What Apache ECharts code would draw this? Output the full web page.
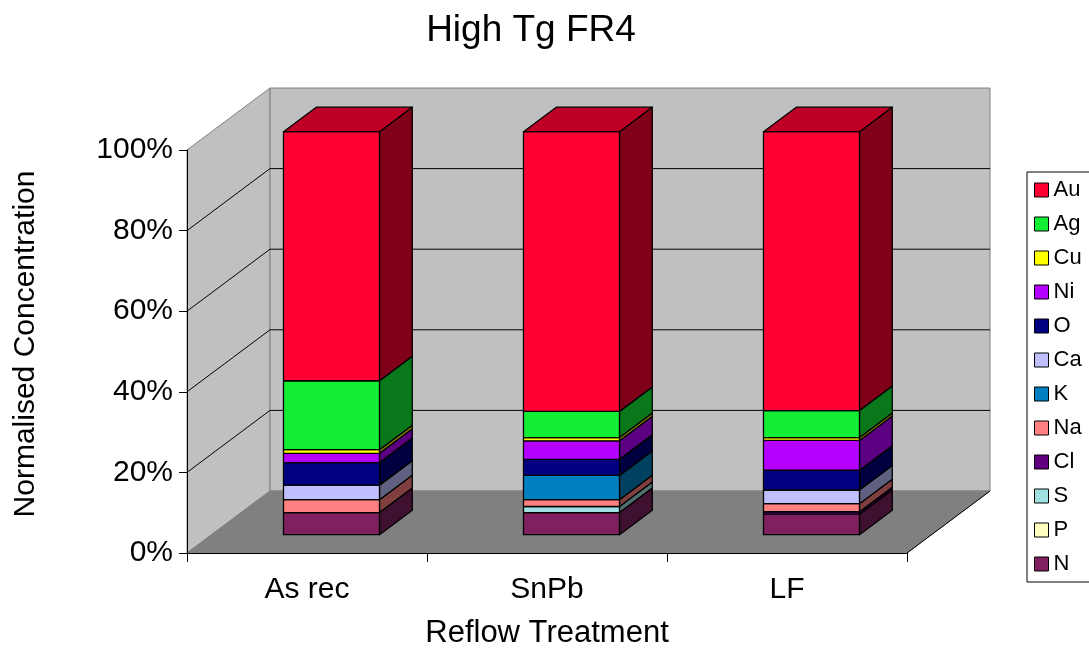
<!DOCTYPE html>
<html><head><meta charset="utf-8">
<script src="https://cdn.jsdelivr.net/npm/echarts@6/dist/echarts.min.js"></script>
<style>html,body{margin:0;padding:0;background:#fff}#c{width:1089px;height:651px}</style>
</head><body><div id="c"></div>
<script>
// ---- data ----
const categories = ['As rec', 'SnPb', 'LF'];
const elements = ['N', 'P', 'S', 'Cl', 'Na', 'K', 'Ca', 'O', 'Ni', 'Cu', 'Ag', 'Au']; // stack order bottom -> top
const N  = [5.5, 5.5, 5.1];
const P  = [0, 0, 0];
const S  = [0, 1.5, 0];
const Cl = [0, 0, 0.6];
const Na = [3.2, 1.7, 2.0];
const K  = [0, 6.0, 0];
const Ca = [3.6, 0, 3.4];
const O  = [5.6, 4.0, 4.9];
const Ni = [2.3, 4.6, 7.4];
const Cu = [0.9, 0.8, 0.7];
const Ag = [17.1, 6.5, 6.7];
const Au = [61.8, 69.4, 69.2];
const yTicks = [0, 20, 40, 60, 80, 100];

const values = {N, P, S, Cl, Na, K, Ca, O, Ni, Cu, Ag, Au};
const colors = {
  Au: '#ff0033', Ag: '#11ee33', Cu: '#ffff00', Ni: '#b300ff', O: '#000080', Ca: '#c0c0ff',
  K: '#0080c0', Na: '#ff8080', Cl: '#600080', S: '#a0e0e0', P: '#ffffc0', N: '#802060'
};

// ---- 3D look ----
const DX = 83, DY = -62, FRONT = 0.295, DEPTH = 0.395;
const FONT = "'Liberation Sans', Arial, sans-serif";
function shade(hex, f) {
  const n = parseInt(hex.slice(1), 16);
  const r = Math.round(((n >> 16) & 255) * f), g = Math.round(((n >> 8) & 255) * f), b = Math.round((n & 255) * f);
  return 'rgb(' + r + ',' + g + ',' + b + ')';
}

// stacking bases and topmost flags
const topIndex = categories.map((_, c) => {
  let idx = -1;
  elements.forEach((e, i) => { if (values[e][c] > 0) idx = i; });
  return idx;
});
const cum = categories.map(() => 0);
const seriesData = {};
elements.forEach((e, i) => {
  seriesData[e] = categories.map((_, c) => {
    const b = cum[c];
    cum[c] += values[e][c];
    return [c, b, cum[c], topIndex[c] === i ? 1 : 0];
  });
});

function barRender(color) {
  const side = shade(color, 0.5), top = shade(color, 0.75);
  return function (params, api) {
    const c = api.value(0), b = api.value(1), t = api.value(2), isTop = api.value(3);
    if (t - b <= 0) return null;
    const p0 = api.coord([c, b]), p1 = api.coord([c, t]);
    const w = api.size([1, 0])[0] * 0.4;
    const ox = DX * FRONT, oy = DY * FRONT, sx = DX * DEPTH, sy = DY * DEPTH;
    const xl = p0[0] - w / 2 + ox, xr = p0[0] + w / 2 + ox, yb = p0[1] + oy, yt = p1[1] + oy;
    const st = {stroke: '#000', lineWidth: 1.3, lineJoin: 'round'};
    const children = [
      {type: 'polygon', shape: {points: [[xr, yt], [xr + sx, yt + sy], [xr + sx, yb + sy], [xr, yb]]},
       style: Object.assign({fill: side}, st)},
      {type: 'rect', shape: {x: xl, y: yt, width: xr - xl, height: yb - yt},
       style: Object.assign({fill: color}, st)}
    ];
    if (isTop) {
      children.push({type: 'polygon', shape: {points: [[xl, yt], [xl + sx, yt + sy], [xr + sx, yt + sy], [xr, yt]]},
        style: Object.assign({fill: top}, st)});
    }
    return {type: 'group', children};
  };
}

function wallsRender(params, api) {
  const cs = params.coordSys;
  const x0 = cs.x, x1 = cs.x + cs.width, yb = cs.y + cs.height, yt = cs.y;
  const ch = [];
  ch.push({type: 'polygon', shape: {points: [[x0, yb], [x0, yt], [x0 + DX, yt + DY], [x0 + DX, yb + DY]]},
    style: {fill: '#c0c0c0', stroke: '#808080', lineWidth: 1}});
  ch.push({type: 'rect', shape: {x: x0 + DX, y: yt + DY, width: x1 - x0, height: yb - yt},
    style: {fill: '#c0c0c0', stroke: '#808080', lineWidth: 1}});
  ch.push({type: 'polygon', shape: {points: [[x0, yb], [x1, yb], [x1 + DX, yb + DY], [x0 + DX, yb + DY]]},
    style: {fill: '#808080', stroke: '#808080', lineWidth: 1}});
  ch.push({type: 'line', shape: {x1: x1, y1: yb, x2: x1 + DX, y2: yb + DY}, style: {stroke: '#000', lineWidth: 1}});
  yTicks.slice(1, -1).forEach(v => {
    const y = api.coord([0, v])[1];
    ch.push({type: 'polyline', shape: {points: [[x0, y], [x0 + DX, y + DY], [x1 + DX, y + DY]]},
      style: {stroke: '#000', lineWidth: 1, fill: null}});
  });
  return {type: 'group', children: ch};
}

const series = [{
  type: 'custom', name: '__walls', z: 1, silent: true, data: [[0, 0]],
  renderItem: wallsRender
}];
elements.forEach(e => {
  series.push({
    type: 'custom', name: e, z: 3, itemStyle: {color: colors[e]},
    encode: {x: 0, y: 2}, data: seriesData[e], renderItem: barRender(colors[e])
  });
});

const chart = echarts.init(document.getElementById('c'), null, {renderer: 'canvas'});
chart.setOption({
  animation: false,
  backgroundColor: '#fff',
  textStyle: {fontFamily: FONT},
  grid: {left: 187, right: 182, top: 150, bottom: 98},
  xAxis: {
    type: 'category', data: categories, z: 5,
    axisLine: {lineStyle: {color: '#000', width: 1}},
    axisTick: {show: true, length: 9, lineStyle: {color: '#000'}},
    axisLabel: {fontSize: 30, color: '#000', margin: 22, fontFamily: FONT},
    splitLine: {show: false}
  },
  yAxis: {
    type: 'value', min: 0, max: 100, interval: 20, z: 5,
    axisLine: {show: true, lineStyle: {color: '#000', width: 1}},
    axisTick: {show: true, length: 8, lineStyle: {color: '#000'}},
    axisLabel: {fontSize: 30, color: '#000', margin: 14, formatter: '{value}%', fontFamily: FONT},
    splitLine: {show: false}
  },
  legend: {
    orient: 'vertical', left: 1027, top: 172, padding: [7, 40, 7, 7],
    itemWidth: 14, itemHeight: 14, itemGap: 12, selectedMode: false,
    borderColor: '#000', borderWidth: 1,
    textStyle: {fontSize: 22, color: '#000', fontFamily: FONT},
    data: elements.slice().reverse().map(e => ({
      name: e, icon: 'rect', itemStyle: {color: colors[e], borderColor: '#000', borderWidth: 1}
    }))
  },
  graphic: [
    {type: 'text', x: 531, y: 31, z: 10, style: {text: 'High Tg FR4', font: '37px ' + FONT, fill: '#000', align: 'center', verticalAlign: 'middle'}},
    {type: 'text', x: 547, y: 633, z: 10, style: {text: 'Reflow Treatment', font: '31px ' + FONT, fill: '#000', align: 'center', verticalAlign: 'middle'}},
    {type: 'text', x: 26, y: 344, rotation: Math.PI / 2, z: 10, style: {text: 'Normalised Concentration', font: '30px ' + FONT, fill: '#000', align: 'center', verticalAlign: 'middle'}}
  ],
  series
});
</script>
</body></html>
